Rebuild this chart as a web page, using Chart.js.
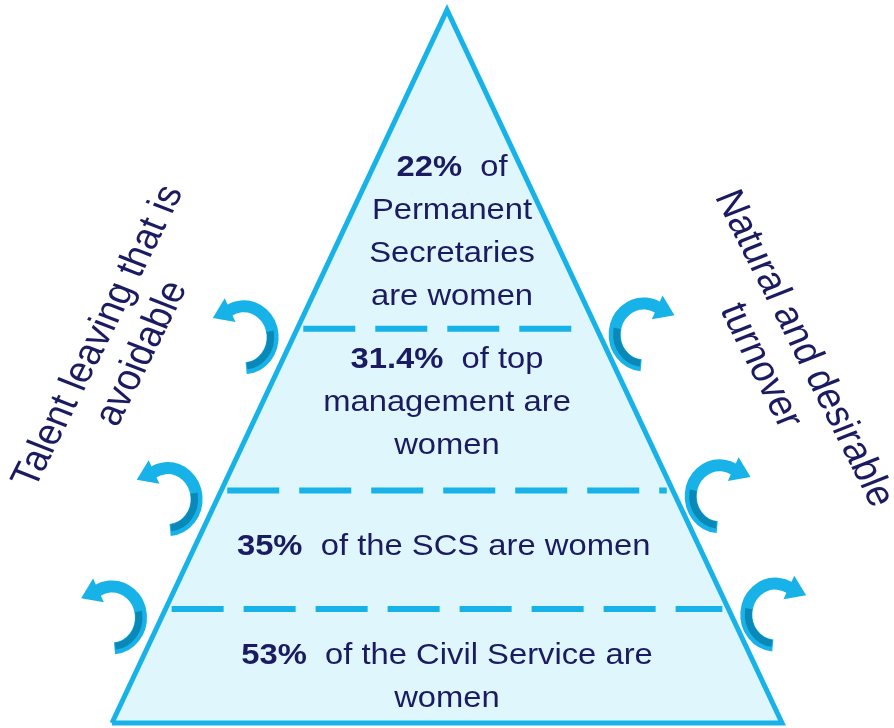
<!DOCTYPE html>
<html>
<head>
<meta charset="utf-8">
<script src="https://cdn.jsdelivr.net/npm/chart.js@4.4.1/dist/chart.umd.min.js"></script>
<style>
html, body { margin: 0; padding: 0; background: #fff; }
#wrap { width: 894px; height: 728px; position: relative; }
</style>
</head>
<body>
<div id="wrap"><canvas id="pyramidChart"></canvas></div>
<script>
// tiers, from the base of the pyramid up to the apex
const tiers = ['Civil Service', 'SCS', 'top management', 'Permanent Secretaries'];
const womenShare = [53, 35, 31.4, 22];
const tierLines = [
    ['of the Civil Service are', 'women'],
    ['of the SCS are women'],
    ['of top', 'management are', 'women'],
    ['of', 'Permanent', 'Secretaries', 'are women']
];
// dashed dividers between tiers, as share of pyramid height
const dividerLevels = [0.16, 0.326, 0.553];
const sideLabels = {
    left: ['Talent leaving that is', 'avoidable'],
    right: ['Natural and desirable', 'turnover']
};
// outline of the pyramid (half width 1, height 1)
const pyramidX = [-1, 0, 1, -1];
const pyramidY = [0, 1, 0, 0];

const CYAN = '#17B2E7';
const DARK_CYAN = '#0A88B8';
const NAVY = '#1B1B62';
const FILL = '#E0F6FD';
const STRETCH = 1.13;
const FONT = '"Liberation Sans", Arial, sans-serif';

// layout: where each tier's text block is centred
const labelCentres = [0.064, 0.247, 0.449, 0.688];
const labelShiftX = [0, -0.01, 0, 0.015];

function drawTextLine(ctx, parts, x, y, size) {
    let total = 0;
    parts.forEach(p => {
        ctx.font = (p.bold ? 'bold ' : '') + size + 'px ' + FONT;
        p.w = ctx.measureText(p.text).width;
        total += p.w;
    });
    ctx.save();
    ctx.translate(x, y);
    ctx.scale(STRETCH, 1);
    let cx = -total / 2;
    parts.forEach(p => {
        ctx.font = (p.bold ? 'bold ' : '') + size + 'px ' + FONT;
        ctx.fillText(p.text, cx, 0);
        cx += p.w;
    });
    ctx.restore();
}

function drawHook(ctx, cx, cy, dir) {
    const r = 31;
    const a0 = 85 * Math.PI / 180, a1 = -122 * Math.PI / 180;
    ctx.save();
    ctx.translate(cx, cy);
    ctx.scale(dir, 1);
    ctx.lineCap = 'butt';
    ctx.strokeStyle = CYAN;
    ctx.lineWidth = 12;
    ctx.beginPath();
    ctx.ellipse(0, 0, r - 2, r, 0, a0, a1, true);
    ctx.stroke();
    // darker inner side of the lower part
    ctx.strokeStyle = DARK_CYAN;
    ctx.lineWidth = 7;
    ctx.beginPath();
    ctx.ellipse(0, 0, r - 4, r - 2, 0, a0 - 0.04, -12 * Math.PI / 180, true);
    ctx.stroke();
    // arrowhead
    const px = (r - 2) * Math.cos(a1), py = r * Math.sin(a1);
    let tx = Math.sin(a1) * 1.1, ty = -Math.cos(a1) * 0.8;
    const len = Math.hypot(tx, ty);
    tx /= len; ty /= len;
    const nx = -ty, ny = tx;
    ctx.fillStyle = CYAN;
    ctx.beginPath();
    ctx.moveTo(px + tx * 17, py + ty * 17);
    ctx.lineTo(px - tx * 2 + nx * 13, py - ty * 2 + ny * 13);
    ctx.lineTo(px - tx * 2 - nx * 13, py - ty * 2 - ny * 13);
    ctx.closePath();
    ctx.fill();
    ctx.restore();
}

function drawSideLabel(ctx, lines, x, y, deg) {
    const a = Math.atan(Math.tan(deg * Math.PI / 180) * STRETCH);
    ctx.save();
    ctx.translate(x, y);
    ctx.scale(STRETCH, 1);
    ctx.rotate(a);
    ctx.font = '36px ' + FONT;
    ctx.textAlign = 'center';
    ctx.textBaseline = 'middle';
    ctx.fillStyle = NAVY;
    ctx.fillText(lines[0], 0, -21);
    ctx.fillText(lines[1], 0, 21);
    ctx.restore();
}

const pyramidLabels = {
    id: 'pyramidLabels',
    afterDatasetsDraw(chart) {
        const ctx = chart.ctx;
        const xs = chart.scales.x, ys = chart.scales.y;

        // arrows leaving the pyramid at each divider
        dividerLevels.forEach(l => {
            drawHook(ctx, xs.getPixelForValue(-(1 - l + 0.16)), ys.getPixelForValue(l - 0.012), 1);
            drawHook(ctx, xs.getPixelForValue(1 - l + 0.14), ys.getPixelForValue(l - 0.008), -1);
        });

        // tier texts
        ctx.fillStyle = NAVY;
        ctx.textBaseline = 'middle';
        ctx.textAlign = 'left';
        tiers.forEach((t, i) => {
            const lines = tierLines[i];
            const step = 43;
            const yc = ys.getPixelForValue(labelCentres[i]);
            const top = yc - (lines.length - 1) * step / 2;
            const xc = xs.getPixelForValue(labelShiftX[i]);
            lines.forEach((line, j) => {
                const parts = j === 0
                    ? [{ text: womenShare[i] + '%', bold: true }, { text: '  ' + line, bold: false }]
                    : [{ text: line, bold: false }];
                drawTextLine(ctx, parts, xc, top + j * step, 29);
            });
        });

        drawSideLabel(ctx, sideLabels.left, xs.getPixelForValue(-0.975), ys.getPixelForValue(0.53), -63.5);
        drawSideLabel(ctx, sideLabels.right, xs.getPixelForValue(1.0), ys.getPixelForValue(0.513), 63.2);
    }
};

const dividerSets = dividerLevels.map(l => ({
    data: [{ x: -(1 - l) + 0.018, y: l }, { x: (1 - l) - 0.018, y: l }],
    showLine: true,
    borderColor: CYAN,
    borderWidth: 6,
    borderDash: [52, 20],
    borderCapStyle: 'butt',
    pointRadius: 0,
    fill: false,
    order: 0
}));

const pyramidConfig = {
    type: 'scatter',
    data: {
        datasets: [
            ...dividerSets,
            {
                data: pyramidX.map((x, i) => ({ x: x, y: pyramidY[i] })),
                showLine: true,
                fill: 'shape',
                backgroundColor: FILL,
                borderColor: CYAN,
                borderWidth: 5,
                borderJoinStyle: 'miter',
                pointRadius: 0,
                tension: 0,
                order: 1
            }
        ]
    },
    options: {
        responsive: true,
        maintainAspectRatio: false,
        animation: false,
        layout: { padding: 0 },
        plugins: {
            legend: { display: false },
            tooltip: { enabled: false }
        },
        scales: {
            x: { type: 'linear', display: false, min: -1.3343, max: 1.3343 },
            y: { type: 'linear', display: false, min: -0.007, max: 1.014 }
        }
    },
    plugins: [pyramidLabels]
};

var pyramidChart = new Chart(document.getElementById('pyramidChart'), pyramidConfig);
</script>
</body>
</html>
